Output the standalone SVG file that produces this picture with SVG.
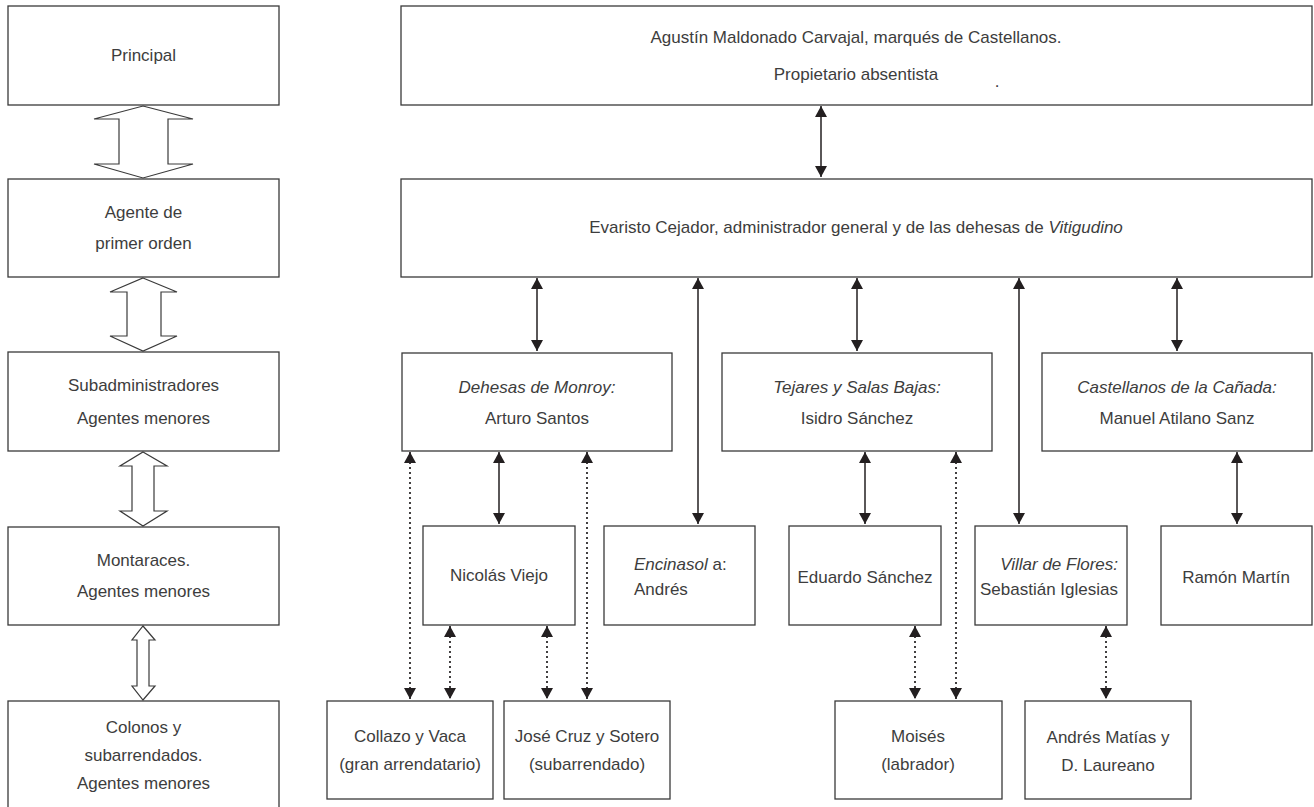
<svg xmlns="http://www.w3.org/2000/svg" width="1314" height="807" viewBox="0 0 1314 807">
<defs>
<style>
.box{fill:#fff;stroke:#3a3a3a;stroke-width:1.3}
.blk{fill:#fff;stroke:#3a3a3a;stroke-width:1.2;stroke-linejoin:miter}
text{font-family:"Liberation Sans",Arial,sans-serif;font-size:17px;fill:#3d3d3d;text-anchor:middle}
.it{font-style:italic}
.ln{stroke:#231f20;stroke-width:1.5;fill:none;marker-start:url(#ah);marker-end:url(#ah)}
.dt{stroke-dasharray:2,3;stroke-width:1.7}
</style>
<marker id="ah" markerUnits="userSpaceOnUse" markerWidth="13" markerHeight="12" refX="12" refY="6.5" orient="auto-start-reverse" viewBox="0 0 12 13">
<path d="M0,0 L12,6.5 L0,13 z" fill="#231f20"/>
</marker>
</defs>
<rect width="1314" height="807" fill="#fff"/>

<g id="left-scale">
<g id="l-principal"><rect class="box" x="8" y="6" width="271" height="99"/><text x="143.5" y="61">Principal</text></g>
<g id="l-agente"><rect class="box" x="8" y="179" width="271" height="98"/><text x="143.5" y="218">Agente de</text><text x="143.5" y="249">primer orden</text></g>
<g id="l-sub"><rect class="box" x="8" y="352" width="271" height="99"/><text x="143.5" y="391">Subadministradores</text><text x="143.5" y="424">Agentes menores</text></g>
<g id="l-mont"><rect class="box" x="8" y="527" width="271" height="98"/><text x="143.5" y="566">Montaraces.</text><text x="143.5" y="597">Agentes menores</text></g>
<g id="l-colonos"><rect class="box" x="8" y="701" width="271" height="115"/><text x="143.5" y="733">Colonos y</text><text x="143.5" y="761">subarrendados.</text><text x="143.5" y="789">Agentes menores</text></g>
<g id="l-arrows">
<polygon class="blk" points="143,106 193,119 168,119 168,164 193,164 143,178 94,164 119,164 119,119 94,119"/>
<polygon class="blk" points="143,278 177,292 161,292 161,336 177,336 143,351 110,336 127,336 127,292 110,292"/>
<polygon class="blk" points="143,452 167,466 154,466 154,511 167,511 143,526 120,511 132,511 132,466 120,466"/>
<polygon class="blk" points="143,626 155,640 149,640 149,686 155,686 143,700 132,686 137,686 137,640 132,640"/>
</g>
</g>

<g id="n-marques"><rect class="box" x="401" y="6" width="911" height="99"/><text x="856" y="43">Agustín Maldonado Carvajal, marqués de Castellanos.</text><text x="856" y="80">Propietario absentista</text><text x="997" y="87">.</text></g>
<g id="n-evaristo"><rect class="box" x="401" y="179" width="911" height="98"/><text x="856" y="233">Evaristo Cejador, administrador general y de las dehesas de <tspan class="it">Vitigudino</tspan></text></g>

<g id="n-monroy"><rect class="box" x="402" y="353" width="270" height="98"/><text class="it" x="537" y="393">Dehesas de Monroy:</text><text x="537" y="424">Arturo Santos</text></g>
<g id="n-tejares"><rect class="box" x="722" y="353" width="270" height="98"/><text class="it" x="857" y="393">Tejares y Salas Bajas:</text><text x="857" y="424">Isidro Sánchez</text></g>
<g id="n-castellanos"><rect class="box" x="1042" y="353" width="270" height="98"/><text class="it" x="1177" y="393">Castellanos de la Cañada:</text><text x="1177" y="424">Manuel Atilano Sanz</text></g>

<g id="n-nicolas"><rect class="box" x="423" y="526" width="152" height="99"/><text x="499" y="581">Nicolás Viejo</text></g>
<g id="n-encinasol"><rect class="box" x="604" y="526" width="151" height="99"/><text x="634" y="570" style="text-anchor:start"><tspan class="it">Encinasol</tspan> a:</text><text x="634" y="595" style="text-anchor:start">Andrés</text></g>
<g id="n-eduardo"><rect class="box" x="789" y="526" width="152" height="99"/><text x="865" y="583">Eduardo Sánchez</text></g>
<g id="n-villar"><rect class="box" x="975" y="526" width="152" height="99"/><text class="it" x="1118" y="570" style="text-anchor:end">Villar de Flores:</text><text x="1118" y="595" style="text-anchor:end">Sebastián Iglesias</text></g>
<g id="n-ramon"><rect class="box" x="1161" y="526" width="151" height="99"/><text x="1236" y="583">Ramón Martín</text></g>

<g id="n-collazo"><rect class="box" x="327" y="701" width="166" height="98"/><text x="410" y="742">Collazo y Vaca</text><text x="410" y="770">(gran arrendatario)</text></g>
<g id="n-jose"><rect class="box" x="504" y="701" width="166" height="98"/><text x="587" y="742">José Cruz y Sotero</text><text x="587" y="770">(subarrendado)</text></g>
<g id="n-moises"><rect class="box" x="835" y="701" width="167" height="98"/><text x="918" y="742">Moisés</text><text x="918" y="770">(labrador)</text></g>
<g id="n-andres"><rect class="box" x="1025" y="701" width="166" height="98"/><text x="1108" y="743">Andrés Matías y</text><text x="1108" y="771">D. Laureano</text></g>

<g id="connectors">
<line class="ln" x1="821" y1="106" x2="821" y2="177"/>
<line class="ln" x1="537" y1="278" x2="537" y2="351"/>
<line class="ln" x1="698" y1="278" x2="698" y2="524"/>
<line class="ln" x1="857" y1="278" x2="857" y2="351"/>
<line class="ln" x1="1019" y1="278" x2="1019" y2="524"/>
<line class="ln" x1="1177" y1="278" x2="1177" y2="351"/>
<line class="ln" x1="499" y1="452" x2="499" y2="524"/>
<line class="ln" x1="865" y1="452" x2="865" y2="524"/>
<line class="ln" x1="1237" y1="452" x2="1237" y2="524"/>
<line class="ln dt" x1="410" y1="452" x2="410" y2="699"/>
<line class="ln dt" x1="587" y1="452" x2="587" y2="699"/>
<line class="ln dt" x1="450" y1="626" x2="450" y2="699"/>
<line class="ln dt" x1="547" y1="626" x2="547" y2="699"/>
<line class="ln dt" x1="956" y1="452" x2="956" y2="699"/>
<line class="ln dt" x1="915" y1="626" x2="915" y2="699"/>
<line class="ln dt" x1="1106" y1="626" x2="1106" y2="699"/>
</g>
</svg>
